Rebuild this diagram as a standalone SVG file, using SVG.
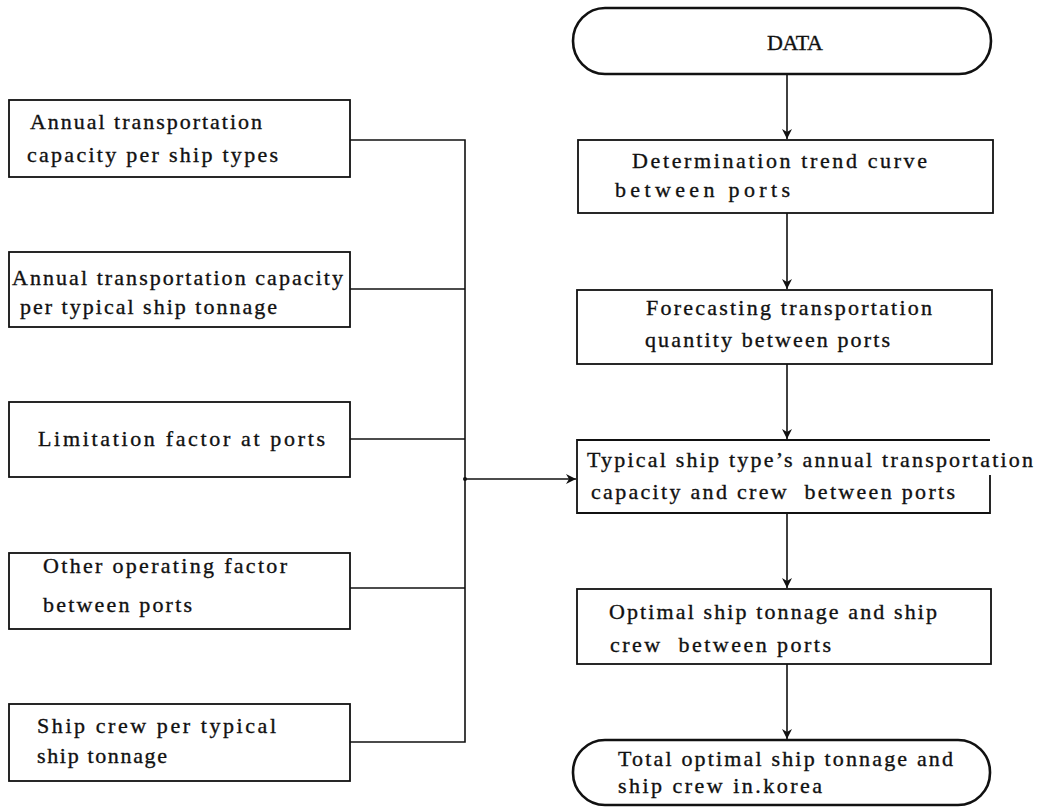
<svg xmlns="http://www.w3.org/2000/svg" width="1040" height="807" viewBox="0 0 1040 807">
<defs>
<style>
.box{fill:#fff;stroke:#111;stroke-width:1.8}
.term{fill:#fff;stroke:#111;stroke-width:2.6}
.ln{fill:none;stroke:#111;stroke-width:1.6}
text{font-family:"Liberation Serif","Times New Roman",serif;font-size:22px;fill:#111;stroke:#111;stroke-width:0.35}
</style>
<marker id="ah" markerWidth="12" markerHeight="12" refX="10" refY="5" orient="auto" markerUnits="userSpaceOnUse">
<path d="M0,0 L10,5 L0,10 L3,5 Z" fill="#111"/>
</marker>
</defs>
<rect width="1040" height="807" fill="#fff"/>

<g id="connectors">
<path class="ln" d="M350,140 H465 V742 H350"/>
<path class="ln" d="M350,289 H465"/>
<path class="ln" d="M350,439 H465"/>
<path class="ln" d="M350,588 H465"/>
<circle cx="465" cy="479" r="2" fill="#111"/>
<path class="ln" d="M465,479 H576" marker-end="url(#ah)"/>
<path class="ln" d="M787,74 V139" marker-end="url(#ah)"/>
<path class="ln" d="M787,213 V289" marker-end="url(#ah)"/>
<path class="ln" d="M787,364 V439" marker-end="url(#ah)"/>
<path class="ln" d="M787,513 V588" marker-end="url(#ah)"/>
<path class="ln" d="M787,664 V739" marker-end="url(#ah)"/>
</g>

<g id="in1">
<rect class="box" x="9" y="100" width="341" height="77"/>
<text x="30" y="129" textLength="232" lengthAdjust="spacing">Annual transportation</text>
<text x="27" y="162" textLength="251" lengthAdjust="spacing">capacity per ship types</text>
</g>
<g id="in2">
<rect class="box" x="9" y="252" width="341" height="75"/>
<text x="12" y="285" textLength="331" lengthAdjust="spacing">Annual transportation capacity</text>
<text x="20" y="314" textLength="257" lengthAdjust="spacing">per typical ship tonnage</text>
</g>
<g id="in3">
<rect class="box" x="9" y="402" width="341" height="75"/>
<text x="38" y="446" textLength="287" lengthAdjust="spacing">Limitation factor at ports</text>
</g>
<g id="in4">
<rect class="box" x="9" y="553" width="341" height="76"/>
<text x="43" y="573" textLength="244" lengthAdjust="spacing">Other operating factor</text>
<text x="43" y="612" textLength="149" lengthAdjust="spacing">between ports</text>
</g>
<g id="in5">
<rect class="box" x="9" y="704" width="341" height="77"/>
<text x="37" y="733" textLength="239" lengthAdjust="spacing">Ship crew per typical</text>
<text x="37" y="763" textLength="130" lengthAdjust="spacing">ship tonnage</text>
</g>

<g id="data">
<rect class="term" x="573" y="8" width="418" height="66" rx="32" ry="33"/>
<text x="767" y="50" textLength="56" lengthAdjust="spacing">DATA</text>
</g>
<g id="trend">
<rect class="box" x="578" y="140" width="415" height="73"/>
<text x="632" y="168" textLength="295" lengthAdjust="spacing">Determination trend curve</text>
<text x="615" y="197" textLength="175" lengthAdjust="spacing">between ports</text>
</g>
<g id="forecast">
<rect class="box" x="577" y="290" width="415" height="74"/>
<text x="646" y="315" textLength="286" lengthAdjust="spacing">Forecasting transportation</text>
<text x="645" y="347" textLength="245" lengthAdjust="spacing">quantity between ports</text>
</g>
<g id="typical">
<path class="box" d="M990,475 V513 H577 V440 H990"/>
<text x="587" y="467" textLength="446" lengthAdjust="spacing">Typical ship type’s annual transportation</text>
<text x="591" y="499" textLength="364" lengthAdjust="spacing" xml:space="preserve">capacity and crew  between ports</text>
</g>
<g id="optimal">
<rect class="box" x="577" y="589" width="414" height="75"/>
<text x="609" y="619" textLength="328" lengthAdjust="spacing">Optimal ship tonnage and ship</text>
<text x="610" y="652" textLength="221" lengthAdjust="spacing" xml:space="preserve">crew  between ports</text>
</g>
<g id="total">
<rect class="term" x="573" y="740" width="417" height="65" rx="32" ry="32"/>
<text x="618" y="766" textLength="335" lengthAdjust="spacing">Total optimal ship tonnage and</text>
<text x="618" y="793" textLength="204" lengthAdjust="spacing">ship crew in.korea</text>
</g>
</svg>
